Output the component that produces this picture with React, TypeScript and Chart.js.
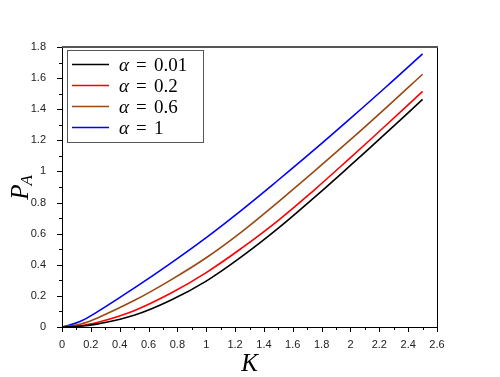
import React, { useEffect, useRef } from "react";
import { Chart, registerables } from "chart.js";

Chart.register(...registerables);

// K values (x) and P_A values for each alpha
const kValues = [0, 0.125, 0.25, 0.5, 0.75, 1, 1.25, 1.5, 1.75, 2, 2.25, 2.5];
const alpha001 = [0, 0.005, 0.02, 0.075, 0.17, 0.295, 0.455, 0.635, 0.833, 1.039, 1.249, 1.463];
const alpha02 = [0, 0.008, 0.03, 0.105, 0.215, 0.35, 0.51, 0.686, 0.882, 1.089, 1.3, 1.515];
const alpha06 = [0, 0.018, 0.06, 0.17, 0.3, 0.445, 0.615, 0.805, 1.002, 1.204, 1.412, 1.625];
const alpha1 = [0, 0.035, 0.1, 0.25, 0.408, 0.575, 0.755, 0.945, 1.14, 1.341, 1.546, 1.756];

const alphaLabels = ["0.01", "0.2", "0.6", "1"];
const seriesColors = ["#000000", "#ff0000", "#9a4812", "#0000ff"];

const xMin = 0;
const xMax = 2.6;
const xStep = 0.2;
const yMin = 0;
const yMax = 1.8;
const yStep = 0.2;

const xTitle = "K";
const yTitleMain = "P";
const yTitleSub = "A";

const fmt = (v: number) => String(Number(v.toFixed(1)));

const decorPlugin = {
  id: "decor",
  afterDraw(chart: any) {
    const ctx = chart.ctx as CanvasRenderingContext2D;
    const { left, right, top, bottom } = chart.chartArea;
    const xs = chart.scales.x;
    const ys = chart.scales.y;
    ctx.save();

    // frame
    ctx.strokeStyle = "#000";
    ctx.lineWidth = 1;
    ctx.beginPath();
    ctx.moveTo(left + 0.5, top);
    ctx.lineTo(left + 0.5, bottom + 0.5);
    ctx.lineTo(right + 0.5, bottom + 0.5);
    ctx.lineTo(right + 0.5, top);
    ctx.stroke();
    ctx.strokeStyle = "#555";
    ctx.lineWidth = 2;
    ctx.beginPath();
    ctx.moveTo(left, top);
    ctx.lineTo(right + 1, top);
    ctx.stroke();

    // ticks (major and minor)
    ctx.strokeStyle = "#000";
    ctx.lineWidth = 1;
    const nx = Math.round((xMax - xMin) / (xStep / 2));
    for (let i = 0; i <= nx; i++) {
      const v = xMin + (i * xStep) / 2;
      const px = Math.round(xs.getPixelForValue(v)) + 0.5;
      const len = i % 2 === 0 ? 5 : 3;
      ctx.beginPath();
      ctx.moveTo(px, bottom);
      ctx.lineTo(px, bottom + len);
      ctx.stroke();
    }
    const ny = Math.round((yMax - yMin) / (yStep / 2));
    for (let i = 0; i <= ny; i++) {
      const v = yMin + (i * yStep) / 2;
      const py = Math.round(ys.getPixelForValue(v)) + 0.5;
      const len = i % 2 === 0 ? 5 : 3;
      ctx.beginPath();
      ctx.moveTo(left, py);
      ctx.lineTo(left - len, py);
      ctx.stroke();
    }

    // legend
    const bx = left + 5;
    const by = top + 3;
    const bw = 136;
    const bh = 92;
    ctx.fillStyle = "#fff";
    ctx.fillRect(bx, by, bw, bh);
    ctx.strokeStyle = "#555";
    ctx.lineWidth = 1;
    ctx.strokeRect(bx + 0.5, by + 0.5, bw, bh);
    chart.data.datasets.forEach((ds: any, i: number) => {
      const ry = by + 14.5 + i * 21;
      ctx.strokeStyle = ds.borderColor;
      ctx.lineWidth = 1.5;
      ctx.beginPath();
      ctx.moveTo(bx + 5, ry);
      ctx.lineTo(bx + 42, ry);
      ctx.stroke();
      ctx.fillStyle = "#000";
      ctx.textBaseline = "alphabetic";
      ctx.textAlign = "left";
      const base = ry + 6;
      ctx.font = "italic 19px 'Liberation Serif'";
      ctx.fillText("α", bx + 52, base);
      ctx.font = "19px 'Liberation Serif'";
      ctx.fillText("=", bx + 69, base);
      ctx.fillText(alphaLabels[i], bx + 87, base);
    });

    // axis titles
    ctx.fillStyle = "#000";
    ctx.textAlign = "center";
    ctx.textBaseline = "alphabetic";
    ctx.font = "italic 25px 'Liberation Serif'";
    ctx.fillText(xTitle, (left + right) / 2, 371);

    ctx.save();
    ctx.translate(28, (top + bottom) / 2);
    ctx.rotate(-Math.PI / 2);
    ctx.font = "italic 25px 'Liberation Serif'";
    const wP = ctx.measureText(yTitleMain).width;
    ctx.font = "italic 17px 'Liberation Serif'";
    const wA = ctx.measureText(yTitleSub).width;
    const start = -(wP + wA) / 2;
    ctx.textAlign = "left";
    ctx.font = "italic 25px 'Liberation Serif'";
    ctx.fillText(yTitleMain, start, 0);
    ctx.font = "italic 17px 'Liberation Serif'";
    ctx.fillText(yTitleSub, start + wP - 1, 4);
    ctx.restore();

    ctx.restore();
  },
};

export default function App() {
  const ref = useRef<HTMLCanvasElement | null>(null);
  useEffect(() => {
    if (!ref.current) return;
    const series = [alpha001, alpha02, alpha06, alpha1];
    const chart = new Chart(ref.current, {
      type: "line",
      data: {
        datasets: series.map((vals, i) => ({
          label: "α = " + alphaLabels[i],
          data: kValues.map((k, j) => ({ x: k, y: vals[j] })),
          borderColor: seriesColors[i],
          backgroundColor: seriesColors[i],
          borderWidth: 1.6,
          pointRadius: 0,
          tension: 0.4,
          fill: false,
        })),
      },
      options: {
        responsive: false,
        animation: false,
        layout: { padding: { left: 0, top: 47, right: 63, bottom: 0 } },
        plugins: {
          legend: { display: false },
          tooltip: { enabled: false },
        },
        scales: {
          x: {
            type: "linear",
            min: xMin,
            max: xMax,
            grid: { display: false },
            border: { display: false },
            ticks: {
              stepSize: xStep,
              maxRotation: 0,
              autoSkip: false,
              padding: 3,
              color: "#222",
              font: { family: "'Liberation Sans'", size: 11 },
              callback: (v: any) => fmt(Number(v)),
            },
            afterFit: (s: any) => {
              s.height = 50;
            },
          },
          y: {
            type: "linear",
            min: yMin,
            max: yMax,
            grid: { display: false },
            border: { display: false },
            ticks: {
              stepSize: yStep,
              autoSkip: false,
              padding: 8,
              color: "#222",
              font: { family: "'Liberation Sans'", size: 11 },
              callback: (v: any) => fmt(Number(v)),
            },
            afterFit: (s: any) => {
              s.width = 62;
            },
          },
        },
      },
      plugins: [decorPlugin],
    });
    return () => chart.destroy();
  }, []);
  return (
    <div style={{ position: "absolute", left: 0, top: 0, width: 500, height: 377, background: "#fff" }}>
      <canvas ref={ref} width={500} height={377} />
    </div>
  );
}
